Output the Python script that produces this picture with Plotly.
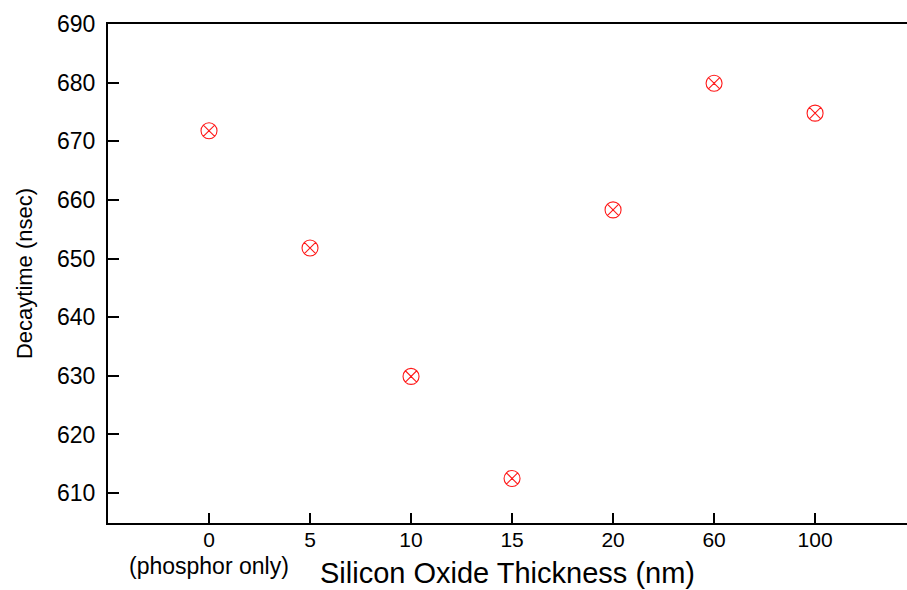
import plotly.graph_objects as go

categories = ["0", "5", "10", "15", "20", "60", "100"]
decaytime = [671.8, 651.8, 629.9, 612.5, 658.3, 679.9, 674.8]
y_ticks = [610, 620, 630, 640, 650, 660, 670, 680, 690]

FONT = "Liberation Sans, Arial, sans-serif"

fig = go.Figure()
fig.add_trace(go.Scatter(
    x=list(range(len(categories))), y=decaytime, mode="markers",
    marker=dict(symbol="circle-x-open", size=16, color="#ff1a1a",
                line=dict(width=1.1, color="#ff1a1a")),
    showlegend=False, cliponaxis=False,
))

fig.update_layout(
    width=907, height=590,
    margin=dict(l=108, r=0, t=24, b=67),
    plot_bgcolor="white", paper_bgcolor="white",
    font=dict(family=FONT, color="black"),
    xaxis=dict(
        range=[-1, 6.91], tickmode="array",
        tickvals=list(range(len(categories))), ticktext=categories,
        ticks="inside", ticklen=10, tickwidth=2, tickcolor="black",
        showline=True, linewidth=2, linecolor="black", mirror=True,
        showgrid=False, zeroline=False, ticklabelstandoff=-3,
        tickfont=dict(size=21, family=FONT),
        title=dict(text="Silicon Oxide Thickness (nm)", font=dict(size=29, family=FONT), standoff=12),
    ),
    yaxis=dict(
        range=[604.9, 690], tickmode="array", tickvals=y_ticks,
        ticks="inside", ticklen=11, tickwidth=2, tickcolor="black",
        showline=True, linewidth=2, linecolor="black",
        showgrid=False, zeroline=False, ticklabelstandoff=6,
        tickfont=dict(size=23, family=FONT),
        title=dict(text="Decaytime (nsec)", font=dict(size=22, family=FONT), standoff=18),
    ),
    annotations=[dict(
        text="(phosphor only)", x=0, xref="x", y=-0.057, yref="paper",
        yanchor="top", xanchor="center", showarrow=False,
        font=dict(size=23, family=FONT, color="black"),
    )],
)

fig.write_html("out.html")
